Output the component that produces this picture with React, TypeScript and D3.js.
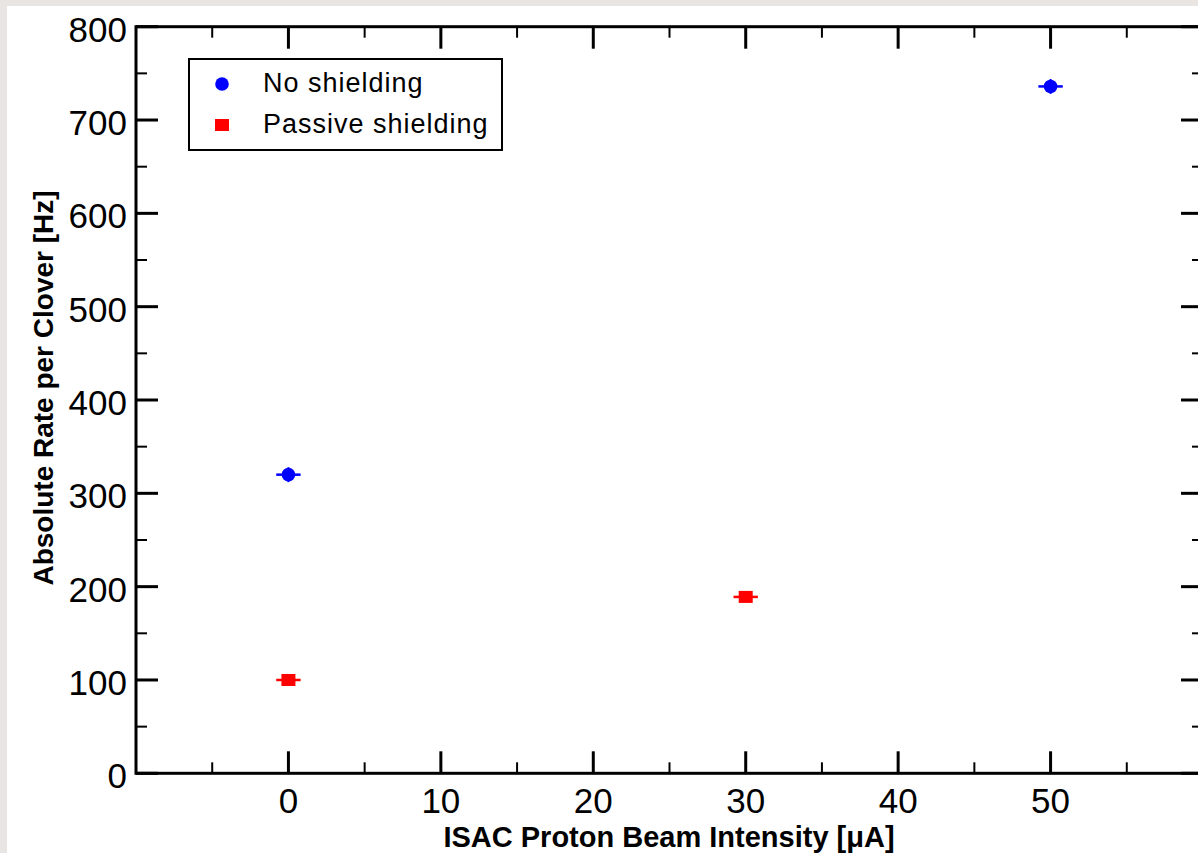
import React from "react";
import * as d3 from "d3";

// Beam intensity (µA) and measured rate (Hz) per configuration
const noShieldX = [0, 50];
const noShieldY = [320, 736];
const passiveX = [0, 30];
const passiveY = [100, 189];
const xErr = 0.8;
const noShieldYErr = 8;

const xTickValues = [0, 10, 20, 30, 40, 50];
const yTickValues = [0, 100, 200, 300, 400, 500, 600, 700, 800];
const legendLabels = ["No shielding", "Passive shielding"];

const W = 1198;
const H = 853;
const FONT = "'Liberation Sans', Arial, Helvetica, sans-serif";

export default function App() {
  const x = d3.scaleLinear().domain([-10, 60]).range([136, 1203]);
  const y = d3.scaleLinear().domain([0, 800]).range([773.3, 26.7]);

  const xMinor = d3.range(-5, 60, 5).filter((v) => v % 10 !== 0);
  const yMinor = d3.range(50, 800, 100);

  const left = x.range()[0];
  const right = x.range()[1];
  const top = y.range()[1];
  const bottom = y.range()[0];
  const major = 22;
  const minor = 11;

  return (
    <div style={{ position: "fixed", left: 0, top: 0 }}>
      <svg width={W} height={H} style={{ display: "block" }}>
        <rect x={0} y={0} width={W} height={H} fill="#e8e5e2" />
        <rect x={7} y={6} width={W - 7} height={H - 6} fill="#ffffff" />

        {/* frame */}
        <rect
          x={left}
          y={top}
          width={right - left}
          height={bottom - top}
          fill="none"
          stroke="#000"
          strokeWidth={3}
        />

        {/* x ticks, bottom and top */}
        {xTickValues.map((v) => (
          <g key={"xt" + v}>
            <line x1={x(v)} x2={x(v)} y1={bottom} y2={bottom - major} stroke="#000" strokeWidth={3} />
            <line x1={x(v)} x2={x(v)} y1={top} y2={top + major} stroke="#000" strokeWidth={3} />
            <text
              x={x(v)}
              y={bottom + 40}
              textAnchor="middle"
              fontFamily={FONT}
              fontSize={35}
              fill="#000"
            >
              {v}
            </text>
          </g>
        ))}
        {xMinor.map((v) => (
          <g key={"xm" + v}>
            <line x1={x(v)} x2={x(v)} y1={bottom} y2={bottom - minor} stroke="#000" strokeWidth={2} />
            <line x1={x(v)} x2={x(v)} y1={top} y2={top + minor} stroke="#000" strokeWidth={2} />
          </g>
        ))}

        {/* y ticks, left and right */}
        {yTickValues.map((v) => (
          <g key={"yt" + v}>
            <line x1={left} x2={left + major} y1={y(v)} y2={y(v)} stroke="#000" strokeWidth={3} />
            <line x1={right} x2={right - major} y1={y(v)} y2={y(v)} stroke="#000" strokeWidth={3} />
            <text
              x={127}
              y={y(v) + 15}
              textAnchor="end"
              fontFamily={FONT}
              fontSize={35}
              fill="#000"
            >
              {v}
            </text>
          </g>
        ))}
        {yMinor.map((v) => (
          <g key={"ym" + v}>
            <line x1={left} x2={left + minor} y1={y(v)} y2={y(v)} stroke="#000" strokeWidth={2} />
            <line x1={right} x2={right - minor} y1={y(v)} y2={y(v)} stroke="#000" strokeWidth={2} />
          </g>
        ))}

        {/* axis titles */}
        <text
          x={669}
          y={847}
          textAnchor="middle"
          fontFamily={FONT}
          fontWeight="bold"
          fontSize={29}
          fill="#000"
        >
          ISAC Proton Beam Intensity [μA]
        </text>
        <text
          transform={`translate(53, 388) rotate(-90)`}
          textAnchor="middle"
          fontFamily={FONT}
          fontWeight="bold"
          fontSize={28}
          fill="#000"
        >
          Absolute Rate per Clover [Hz]
        </text>

        {/* No shielding points */}
        {noShieldX.map((v, i) => (
          <g key={"ns" + i}>
            <line
              x1={x(v - xErr)}
              x2={x(v + xErr)}
              y1={y(noShieldY[i])}
              y2={y(noShieldY[i])}
              stroke="#0000ff"
              strokeWidth={2.5}
            />
            <line
              x1={x(v)}
              x2={x(v)}
              y1={y(noShieldY[i] - noShieldYErr)}
              y2={y(noShieldY[i] + noShieldYErr)}
              stroke="#0000ff"
              strokeWidth={2}
            />
            <circle cx={x(v)} cy={y(noShieldY[i])} r={6.8} fill="#0000ff" />
          </g>
        ))}

        {/* Passive shielding points */}
        {passiveX.map((v, i) => (
          <g key={"ps" + i}>
            <line
              x1={x(v - xErr)}
              x2={x(v + xErr)}
              y1={y(passiveY[i])}
              y2={y(passiveY[i])}
              stroke="#ff0000"
              strokeWidth={2.5}
            />
            <rect
              x={x(v) - 7}
              y={y(passiveY[i]) - 6}
              width={14}
              height={12}
              fill="#ff0000"
            />
          </g>
        ))}

        {/* legend */}
        <rect x={189} y={59} width={313} height={91} fill="#fff" stroke="#000" strokeWidth={2} />
        <circle cx={222} cy={84} r={6.8} fill="#0000ff" />
        <rect x={215} y={119} width={14} height={12} fill="#ff0000" />
        <text x={263} y={92} fontFamily={FONT} fontSize={27} letterSpacing={1} fill="#000">
          {legendLabels[0]}
        </text>
        <text x={263} y={133} fontFamily={FONT} fontSize={27} letterSpacing={1} fill="#000">
          {legendLabels[1]}
        </text>
      </svg>
    </div>
  );
}
